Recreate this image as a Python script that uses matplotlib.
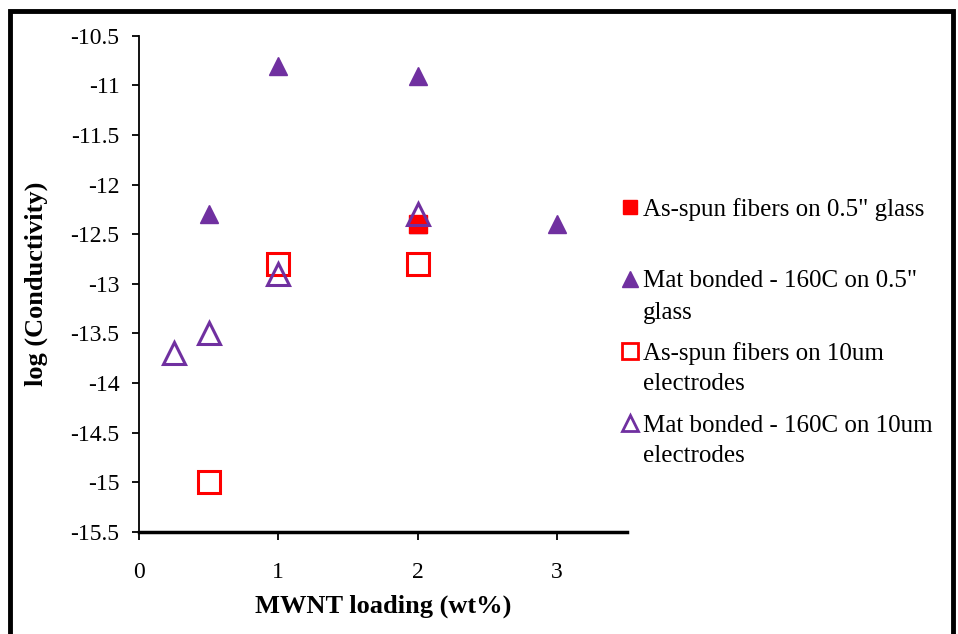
import matplotlib.pyplot as plt
from matplotlib.lines import Line2D
from matplotlib.patches import Rectangle

# data
spun_glass_x = [2]
spun_glass_y = [-12.4]

bonded_glass_x = [0.5, 1, 2, 3, 2]
bonded_glass_y = [-12.3, -10.8, -10.9, -12.4, -12.4]

spun_elec_x = [0.5, 1, 2]
spun_elec_y = [-15.0, -12.8, -12.8]

bonded_elec_x = [0.25, 0.5, 1, 2]
bonded_elec_y = [-13.7, -13.5, -12.9, -12.3]

x_ticks = [0, 1, 2, 3]
y_ticks = [-15.5, -15, -14.5, -14, -13.5, -13, -12.5, -12, -11.5, -11, -10.5]

labels = ['As-spun fibers on 0.5" glass',
          'Mat bonded - 160C on 0.5"\nglass',
          'As-spun fibers on 10um\nelectrodes',
          'Mat bonded - 160C on 10um\nelectrodes']

purple = '#7030A0'
red = '#FF0000'

plt.rcParams['font.family'] = ['Liberation Serif', 'DejaVu Serif']

fig = plt.figure(figsize=(9.58, 6.34), dpi=100)
ax = fig.add_axes([0.145, 0.161, 0.509, 0.7825])

ax.plot(bonded_glass_x, bonded_glass_y, '^', color=purple, ms=13, mec=purple, ls='none')
ax.plot(spun_glass_x, spun_glass_y, 's', color=red, ms=13, ls='none')
ax.plot(spun_elec_x, spun_elec_y, 's', mfc='none', mec=red, mew=2.2, ms=16, ls='none')
ax.plot(bonded_elec_x, bonded_elec_y, '^', mfc='none', mec=purple, mew=2.2, ms=16, ls='none')

ax.set_xlim(0, 3.5)
ax.set_ylim(-15.5, -10.5)
ax.set_xticks(x_ticks)
ax.set_yticks(y_ticks)
ax.set_xticklabels([str(t) for t in x_ticks])
ax.set_yticklabels(['%g' % t for t in y_ticks])
ax.tick_params(axis='both', labelsize=17, direction='out', color='black')
ax.tick_params(axis='y', length=5, width=1.3, pad=9)
ax.tick_params(axis='x', length=6, width=1.3, pad=16)

for s in ['top', 'right']:
    ax.spines[s].set_visible(False)
ax.spines['left'].set_linewidth(1.3)
ax.spines['bottom'].set_linewidth(2.5)

ax.set_xlabel('MWNT loading (wt%)', fontsize=19, fontweight='bold', labelpad=8)
ax.set_ylabel('log (Conductivity)', fontsize=19, fontweight='bold', labelpad=16)

# legend drawn by hand so the key sits on the first text line
keys = [dict(marker='s', color=red, mfc=red, mec=red, ms=10),
        dict(marker='^', color=purple, mfc=purple, mec=purple, ms=11),
        dict(marker='s', color=red, mfc='none', mec=red, mew=2, ms=11),
        dict(marker='^', color=purple, mfc='none', mec=purple, mew=2, ms=11)]
rows = [207, 279, 351, 423]
line_step = 31
W, H = 958, 634
for lab, key, row in zip(labels, keys, rows):
    fig.add_artist(Line2D([630 / W], [1 - row / H], transform=fig.transFigure, ls='none', **key))
    for i, part in enumerate(lab.split('\n')):
        fig.text(643 / W, 1 - (row + i * line_step) / H, part, fontsize=18,
                 ha='left', va='center_baseline', transform=fig.transFigure)

# outer frame
fig.add_artist(Rectangle((10 / W, -0.05), (953 - 10) / W, 1.05 - 11 / H,
                         transform=fig.transFigure, fill=False, lw=3.5, ec='black'))

fig.savefig('out.png', dpi=100)
